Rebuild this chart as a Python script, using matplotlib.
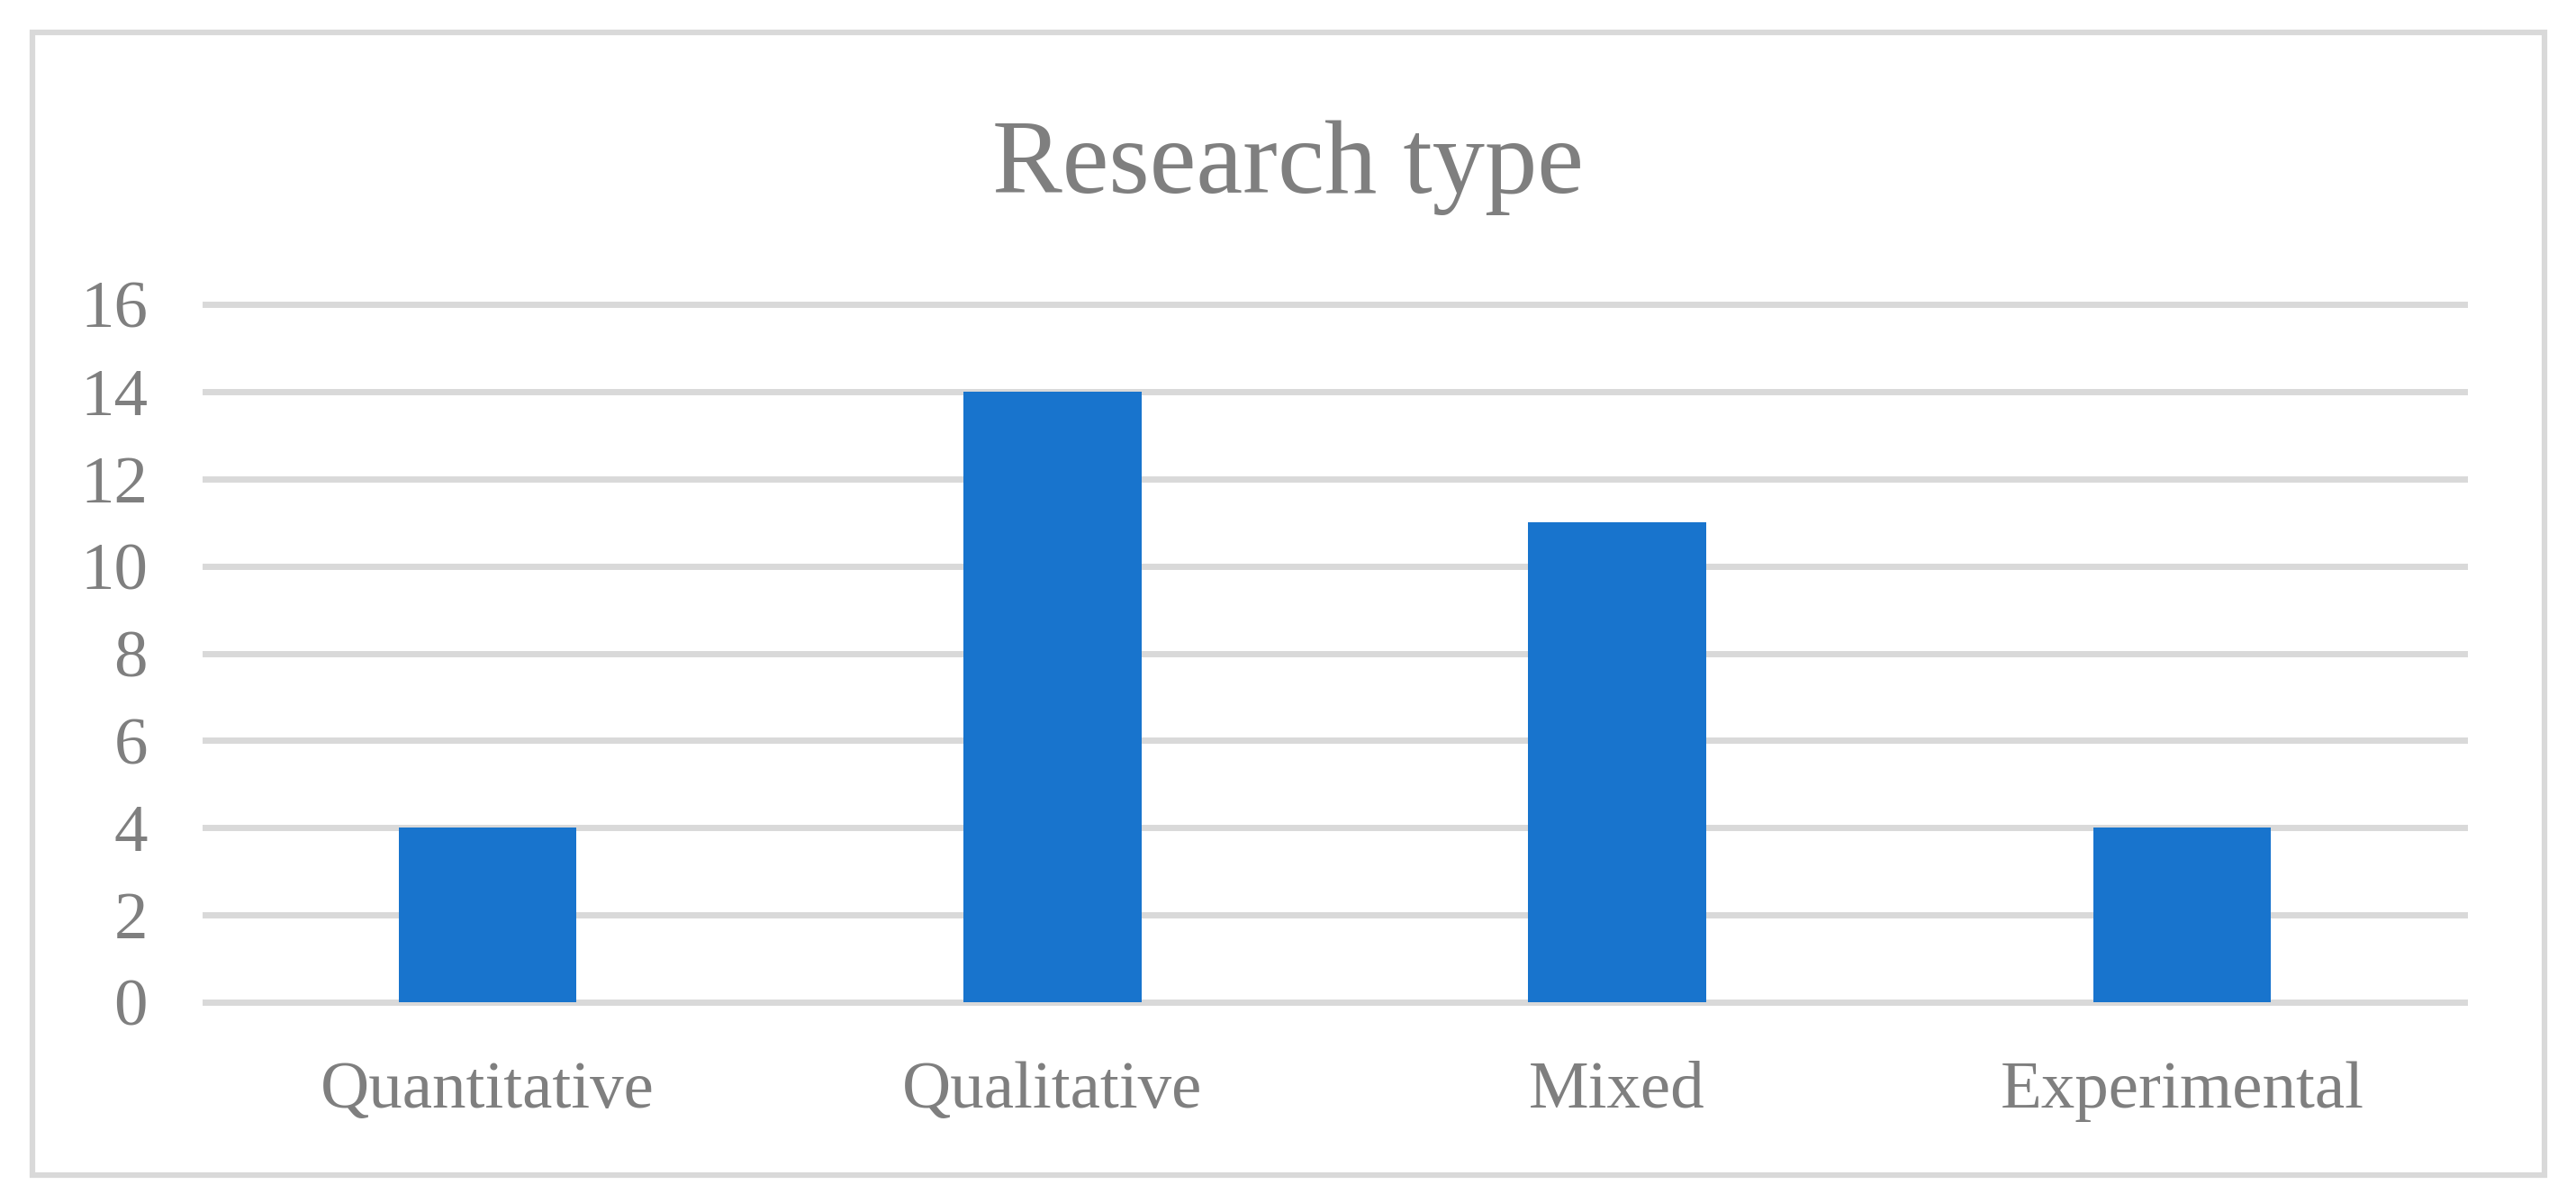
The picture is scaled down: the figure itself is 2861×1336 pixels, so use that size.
import matplotlib
matplotlib.use('Agg')
import matplotlib.pyplot as plt
from matplotlib.patches import Rectangle

categories = ['Quantitative', 'Qualitative', 'Mixed', 'Experimental']
counts = [4, 14, 11, 4]
y_ticks = [0, 2, 4, 6, 8, 10, 12, 14, 16]

W, H = 2861, 1336
fig = plt.figure(figsize=(W / 100, H / 100), dpi=100)
fig.patch.set_facecolor('white')

plt.rcParams['font.family'] = ['Liberation Serif', 'DejaVu Serif']
text_color = '#7f7f7f'
grid_color = '#d9d9d9'

# outer chart frame
fig.patches.append(Rectangle((36 / W, 1 - 1305 / H), (2826 - 36) / W, (1305 - 36) / H,
                             transform=fig.transFigure, fill=False,
                             edgecolor=grid_color, linewidth=4.5))

ax = fig.add_axes([228 / W, 1 - 1113 / H, (2737 - 228) / W, (1113 - 338) / H])
ax.set_facecolor('none')

x = range(len(categories))
ax.bar(x, counts, width=0.315, color='#1874cd', zorder=3)

ax.set_xlim(-0.5, len(categories) - 0.5)
ax.set_ylim(0, 16)
ax.set_yticks(y_ticks)
ax.set_xticks(list(x))
ax.set_xticklabels(categories)
ax.tick_params(axis='both', length=0, labelsize=54, labelcolor=text_color)
ax.tick_params(axis='y', pad=46)
ax.tick_params(axis='x', pad=47)

ax.grid(True, axis='y', color=grid_color, linewidth=5, zorder=1)
ax.set_axisbelow(True)
for line in ax.get_ygridlines():
    line.set_clip_on(False)
for spine in ax.spines.values():
    spine.set_visible(False)

fig.text(0.5, 1 - 186 / H, 'Research type', ha='center', va='center',
         fontsize=84, color=text_color)

fig.savefig('out.png', dpi=100, facecolor=fig.get_facecolor())
plt.close(fig)
